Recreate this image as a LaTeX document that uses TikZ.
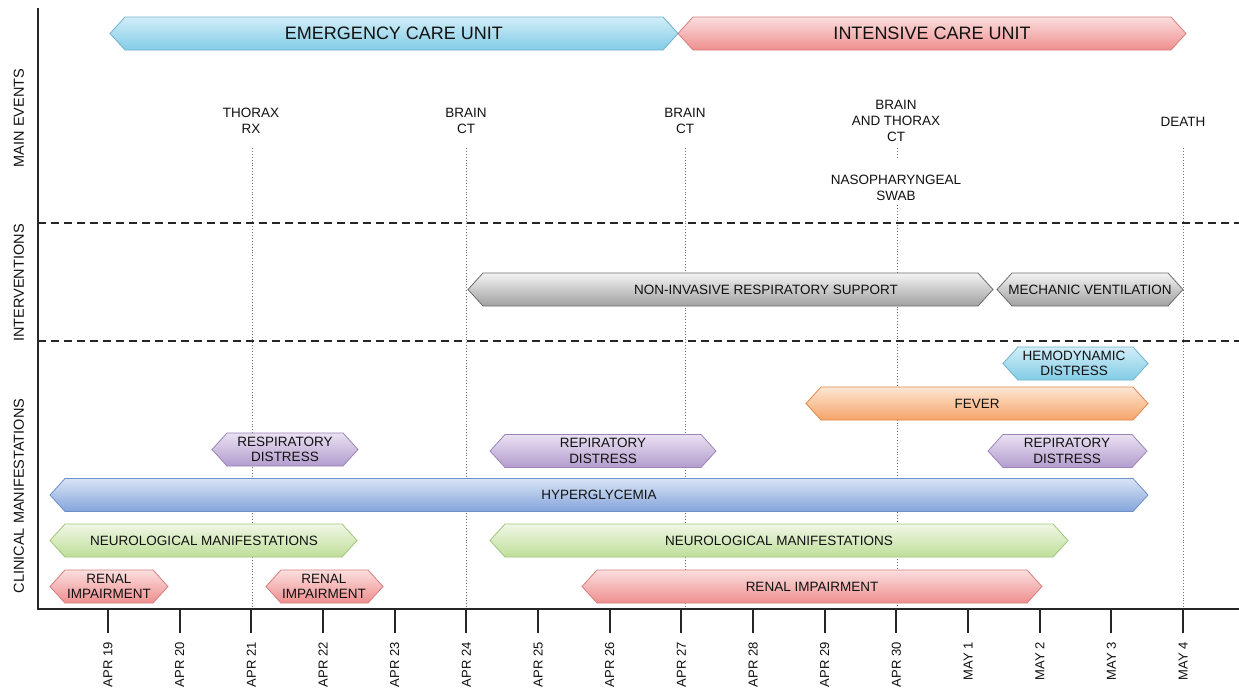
\documentclass[tikz,border=0pt]{standalone}
\usepackage{fontspec}
\setmainfont{Liberation Sans}
\definecolor{txt}{HTML}{111111}
\definecolor{cyanT}{HTML}{D2EDF8}\definecolor{cyanB}{HTML}{82CCE6}\definecolor{cyanD}{HTML}{6FB3CF}
\definecolor{redT}{HTML}{FBDEDE}\definecolor{redB}{HTML}{EE8E8E}\definecolor{redD}{HTML}{D77E7E}
\definecolor{grayT}{HTML}{F4F4F4}\definecolor{grayB}{HTML}{A0A0A0}\definecolor{grayD}{HTML}{6E6E6E}
\definecolor{oraT}{HTML}{FDE6D4}\definecolor{oraB}{HTML}{F6A368}\definecolor{oraD}{HTML}{E0894C}
\definecolor{purT}{HTML}{EAE1F2}\definecolor{purB}{HTML}{B29CCE}\definecolor{purD}{HTML}{9B85B8}
\definecolor{bluT}{HTML}{D8E4F5}\definecolor{bluB}{HTML}{84A4DA}\definecolor{bluD}{HTML}{6E8FC8}
\definecolor{grnT}{HTML}{F0F7E6}\definecolor{grnB}{HTML}{BEDE99}\definecolor{grnD}{HTML}{9FC77A}
\tikzset{
  bar/.style={line width=0.8pt},
  cyanbar/.style={bar, draw=cyanD, top color=cyanT, bottom color=cyanB},
  redbar/.style={bar, draw=redD, top color=redT, bottom color=redB},
  graybar/.style={bar, draw=grayD, top color=grayT, bottom color=grayB},
  orabar/.style={bar, draw=oraD, top color=oraT, bottom color=oraB},
  purbar/.style={bar, draw=purD, top color=purT, bottom color=purB},
  blubar/.style={bar, draw=bluD, top color=bluT, bottom color=bluB},
  grnbar/.style={bar, draw=grnD, top color=grnT, bottom color=grnB},
  boxtxt/.style={font=\fontsize{13.5}{15.5}\selectfont, text=txt, align=center, inner sep=0pt},
  evtxt/.style={font=\fontsize{13.5}{16}\selectfont, text=txt, align=center, inner sep=0pt},
  sidelbl/.style={font=\fontsize{14.5}{16}\selectfont, text=txt, inner sep=0pt, rotate=90},
  ticklbl/.style={font=\fontsize{13}{15}\selectfont, text=txt, inner sep=0pt, rotate=90, anchor=east},
  axisline/.style={line width=1.8pt, draw=black!85},
  guide/.style={dotted, line width=0.9pt, draw=black!55},
  sepline/.style={dashed, dash pattern=on 8pt off 5pt, line width=1.5pt, draw=black!85},
}
\newcommand\tlbar[7]{% name, style, x1, x2, yc, text x, text
  \draw[#2] (#3,#5) -- (#3+15,#5-16.5) -- (#4-15,#5-16.5) -- (#4,#5) -- (#4-15,#5+16.5) -- (#3+15,#5+16.5) -- cycle;
  \node[boxtxt] (#1) at (#6,#5) {#7};
}
\begin{document}
\begin{tikzpicture}[x=1pt, y=-1pt]
\useasboundingbox[fill=white] (0,0) rectangle (1239,688);

% guide lines
\draw[guide] (252,148) -- (252,609);
\draw[guide] (466,148) -- (466,609);
\draw[guide] (685,148) -- (685,609);
\draw[guide] (897,148) -- (897,158);
\draw[guide] (897,205) -- (897,609);
\draw[guide] (1183,148) -- (1183,609);

% separators
\draw[sepline] (38,223) -- (1239,223);
\draw[sepline] (38,341) -- (1239,341);

% axes
\coordinate (origin) at (38,609);
\draw[axisline] (38,8) -- (origin) -- (1239,609);
\foreach \lab [count=\i from 0] in {APR 19,APR 20,APR 21,APR 22,APR 23,APR 24,APR 25,APR 26,APR 27,APR 28,APR 29,APR 30,MAY 1,MAY 2,MAY 3,MAY 4}{
  \coordinate (t\i) at ({108+71.67*\i},609);
  \draw[axisline] (t\i) -- ++(0,24);
  \node[ticklbl] (l\i) at ({108+71.67*\i},642) {\lab};
}

% side labels
\node[sidelbl] (lme) at (19,118) {MAIN EVENTS};
\node[sidelbl] (lint) at (19,283) {INTERVENTIONS};
\node[sidelbl] (lcm) at (19,496) {CLINICAL MANIFESTATIONS};

% banners
\tlbar{ecu}{cyanbar}{110}{678}{33.5}{394}{\fontsize{18}{20}\selectfont EMERGENCY CARE UNIT}
\tlbar{icu}{redbar}{678}{1186}{33.5}{932}{\fontsize{18}{20}\selectfont INTENSIVE CARE UNIT}

% events
\node[evtxt] (ev1) at (251,120.5) {THORAX\\RX};
\node[evtxt] (ev2) at (466,120.5) {BRAIN\\CT};
\node[evtxt] (ev3) at (685,120.5) {BRAIN\\CT};
\node[evtxt] (ev4) at (896,121) {BRAIN\\AND THORAX\\CT};
\node[evtxt] (ev5) at (896,188) {NASOPHARYNGEAL\\SWAB};
\node[evtxt] (ev6) at (1183,122) {DEATH};

% interventions
\tlbar{nirs}{graybar}{468}{993}{289.5}{766}{NON-INVASIVE RESPIRATORY SUPPORT}
\tlbar{mv}{graybar}{997}{1183}{289.5}{1090}{MECHANIC VENTILATION}

% clinical manifestations
\tlbar{hemo}{cyanbar}{1003}{1148}{363.5}{1074}{HEMODYNAMIC\\DISTRESS}
\tlbar{fever}{orabar}{806}{1148}{403.5}{977}{FEVER}
\tlbar{rd1}{purbar}{212}{358}{449.5}{285}{RESPIRATORY\\DISTRESS}
\tlbar{rd2}{purbar}{490}{716}{451}{603}{REPIRATORY\\DISTRESS}
\tlbar{rd3}{purbar}{988}{1147}{451}{1067}{REPIRATORY\\DISTRESS}
\tlbar{hyper}{blubar}{50}{1148}{495}{599}{HYPERGLYCEMIA}
\tlbar{nm1}{grnbar}{50}{357}{540.5}{204}{NEUROLOGICAL MANIFESTATIONS}
\tlbar{nm2}{grnbar}{490}{1068}{540.5}{779}{NEUROLOGICAL MANIFESTATIONS}
\tlbar{ri1}{redbar}{50}{168}{586.5}{109}{RENAL\\IMPAIRMENT}
\tlbar{ri2}{redbar}{266}{383}{586.5}{324}{RENAL\\IMPAIRMENT}
\tlbar{ri3}{redbar}{582}{1042}{586.5}{812}{RENAL IMPAIRMENT}
\end{tikzpicture}
\end{document}
